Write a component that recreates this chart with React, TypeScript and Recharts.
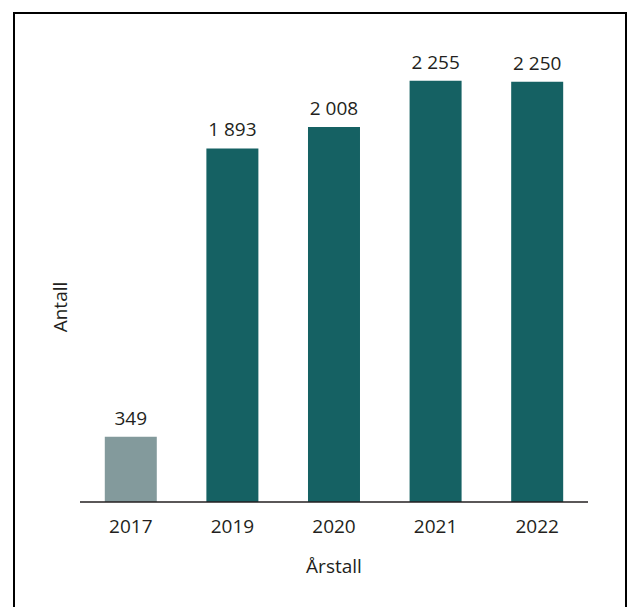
import { BarChart, Bar, XAxis, YAxis, Cell, LabelList, Label } from 'recharts'

const YEARS = ['2017', '2019', '2020', '2021', '2022']
const COUNTS = [349, 1893, 2008, 2255, 2250]
const Y_DOMAIN = [0, 2500]

const TEAL = '#156163'
const GREY = '#839a9c'
const TEXT = '#231f20'
const FONT = '"Open Sans", sans-serif'

const data = YEARS.map((year, i) => ({ year, count: COUNTS[i] }))

const fmt = (v: any) => String(v).replace(/\B(?=(\d{3})+(?!\d))/g, ' ')

export default function App() {
  return (
    <div style={{ position: 'fixed', left: 0, top: 0, width: 627, height: 607, background: '#fff' }}>
      <div
        style={{
          position: 'absolute',
          left: 13,
          top: 12,
          width: 614,
          height: 640,
          border: '2px solid #000',
          boxSizing: 'border-box',
        }}
      />
      <div style={{ position: 'absolute', left: 0, top: 0 }}>
        <BarChart
          width={627}
          height={607}
          data={data}
          margin={{ top: 35, right: 39, bottom: 30, left: 0 }}
          barCategoryGap="24.4%"
        >
          <XAxis
            dataKey="year"
            height={75}
            tickLine={false}
            tickSize={0}
            tickMargin={18}
            axisLine={{ stroke: TEXT, strokeWidth: 1.5 }}
            tick={{ fill: TEXT, fontSize: 19, fontFamily: FONT }}
          >
            <Label
              value="Årstall"
              position="insideBottom"
              offset={4}
              style={{ fill: TEXT, fontSize: 19, fontFamily: FONT }}
            />
          </XAxis>
          <YAxis
            width={80}
            domain={Y_DOMAIN}
            tick={false}
            tickLine={false}
            axisLine={false}
          >
            <Label
              content={() => (
                <text
                  x={67}
                  y={307}
                  transform="rotate(-90 67 307)"
                  textAnchor="middle"
                  fill={TEXT}
                  fontSize={19}
                  fontFamily={FONT}
                >
                  Antall
                </text>
              )}
            />
          </YAxis>
          <Bar dataKey="count" isAnimationActive={false}>
            {data.map((d) => (
              <Cell key={d.year} fill={d.year === '2017' ? GREY : TEAL} />
            ))}
            <LabelList
              dataKey="count"
              position="top"
              offset={12}
              formatter={fmt}
              style={{ fill: TEXT, fontSize: 19, fontFamily: FONT }}
            />
          </Bar>
        </BarChart>
      </div>
    </div>
  )
}
